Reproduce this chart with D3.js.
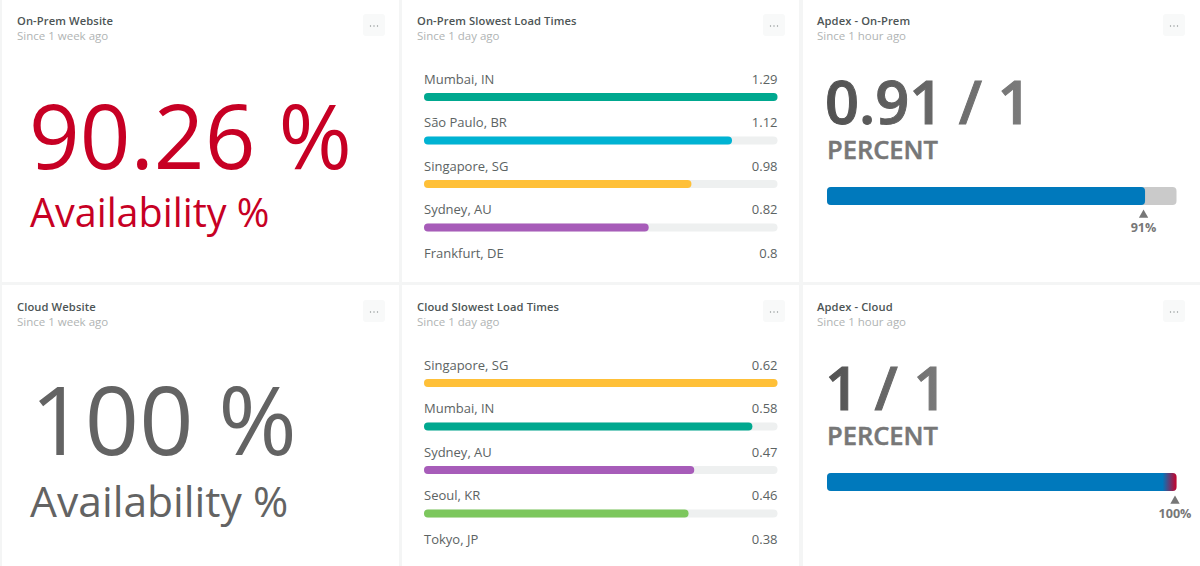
<!DOCTYPE html>
<html>
  <head>
    <meta charset="utf-8">
    <script src="https://cdn.jsdelivr.net/npm/d3@7"></script>
    <style>
      html, body { margin: 0; padding: 0; background: #f4f5f5; overflow: hidden; }
      text { font-family: "Open Sans", sans-serif; }
    </style>
  </head>
  <body>
    <div id="board"></div>

    <script>
      // ========= Data ========= //
      // times carry one more digit than the labels
      const onPremCities = ['Mumbai, IN', 'São Paulo, BR', 'Singapore, SG', 'Sydney, AU', 'Frankfurt, DE'];
      const onPremTimes = [1.29, 1.124, 0.976, 0.82, 0.8];
      const cloudCities = ['Singapore, SG', 'Mumbai, IN', 'Sydney, AU', 'Seoul, KR', 'Tokyo, JP'];
      const cloudTimes = [0.62, 0.576, 0.474, 0.464, 0.38];
      const cityColors = {
        'Mumbai, IN': '#00a88f',
        'São Paulo, BR': '#00b3d3',
        'Singapore, SG': '#ffc038',
        'Sydney, AU': '#a75cb9',
        'Seoul, KR': '#7cc75d'
      };
      const apdexValues = [0.91, 1];
      const apdexLabels = ['0.91 / 1', '1 / 1'];
      const apdexPercents = ['91%', '100%'];
      const availabilityValues = ['90.26 %', '100 %'];
      const cardTitles = ['On-Prem Website', 'On-Prem Slowest Load Times', 'Apdex - On-Prem', 'Cloud Website', 'Cloud Slowest Load Times', 'Apdex - Cloud'];
      const cardSubtitles = ['Since 1 week ago', 'Since 1 day ago', 'Since 1 hour ago', 'Since 1 week ago', 'Since 1 day ago', 'Since 1 hour ago'];

      // ========= Setup dimensions ========= //
      const width = 1200;
      const height = 566;
      const columnX = [2, 402, 802];
      const columnW = [397, 397, 398];
      const rowY = [0, 286];
      const rowH = [282, 281];
      const timeFormat = d3.format('.2~f');

      const svg = d3.select('#board').append('svg')
        .attr('width', width)
        .attr('height', height)
        .style('display', 'block');

      // ========= Defs ========= //
      const defs = svg.append('defs');

      // the big apdex text fades a little from left to right
      const textFade = defs.append('linearGradient').attr('id', 'text-fade');
      textFade.append('stop').attr('offset', '0%').attr('stop-color', '#515151');
      textFade.append('stop').attr('offset', '100%').attr('stop-color', '#7d7d7d');

      const barEnd = defs.append('linearGradient').attr('id', 'bar-end');
      barEnd.append('stop').attr('offset', '0%').attr('stop-color', '#0079bc');
      barEnd.append('stop').attr('offset', '96%').attr('stop-color', '#0079bc');
      barEnd.append('stop').attr('offset', '100%').attr('stop-color', '#c9002a');

      // ========= Cards ========= //
      const cards = cardTitles.map((title, i) => {
        const col = i % 3;
        const row = Math.floor(i / 3);
        const g = svg.append('g')
          .attr('transform', `translate(${columnX[col]},${rowY[row]})`);

        g.append('rect')
          .attr('x', col === 2 ? 1 : 0)
          .attr('y', row === 1 ? -1 : 0)
          .attr('width', columnW[col])
          .attr('height', rowH[row])
          .attr('fill', '#fff');

        g.append('text')
          .attr('x', 15)
          .attr('y', 25)
          .attr('font-size', 11.2)
          .attr('font-weight', 600)
          .attr('letter-spacing', 0.1)
          .attr('fill', '#4d5555')
          .text(title);

        g.append('text')
          .attr('x', 15)
          .attr('y', 40)
          .attr('font-size', 11.5)
          .attr('fill', '#b0b4b4')
          .text(cardSubtitles[i]);

        // menu button
        g.append('rect')
          .attr('x', 361)
          .attr('y', 14)
          .attr('width', 22)
          .attr('height', 22)
          .attr('rx', 3)
          .attr('fill', '#f8f9f9');

        g.selectAll('.dot')
          .data([-3.5, 0, 3.5])
          .join('circle')
          .attr('class', 'dot')
          .attr('cx', d => 372 + d)
          .attr('cy', 26)
          .attr('r', 0.7)
          .attr('fill', '#8e9494');

        return g;
      });

      // ========= Availability ========= //
      function drawAvailability(card, value, color, valueX, valueY, valueSize, labelY, labelSize) {
        card.append('text')
          .attr('x', valueX)
          .attr('y', valueY)
          .attr('font-size', valueSize)
          .attr('fill', color)
          .text(value);

        card.append('text')
          .attr('x', 28)
          .attr('y', labelY)
          .attr('font-size', labelSize)
          .attr('fill', color)
          .text('Availability %');
      }

      drawAvailability(cards[0], availabilityValues[0], '#c70024', 27, 169, 88.8, 226.5, 39.5);
      drawAvailability(cards[3], availabilityValues[1], '#636363', 28.5, 169, 95, 231, 42.6);

      // ========= Load time bars ========= //
      function drawLoadTimes(card, cities, times) {
        const x = d3.scaleLinear().domain([0, d3.max(times)]).range([0, 353.5]);
        const y = d3.scalePoint().domain(cities).range([84, 258]);

        const row = card.selectAll('.row')
          .data(cities)
          .join('g')
          .attr('class', 'row')
          .attr('transform', d => `translate(22,${y(d)})`);

        row.append('text')
          .attr('y', -0.4)
          .attr('font-size', 13)
          .attr('fill', '#5c6363')
          .text(d => d);

        row.append('text')
          .attr('x', 353.5)
          .attr('y', -0.4)
          .attr('text-anchor', 'end')
          .attr('font-size', 13)
          .attr('fill', '#5c6363')
          .text((d, i) => timeFormat(times[i]));

        // the last row is cut off by the card, only the first four show a bar
        const barRow = row.filter((d, i) => i < 4);

        barRow.append('rect')
          .attr('y', 9)
          .attr('width', x.range()[1])
          .attr('height', 8)
          .attr('rx', 4)
          .attr('fill', '#eef0f0');

        barRow.append('rect')
          .attr('y', 9)
          .attr('width', d => x(times[cities.indexOf(d)]))
          .attr('height', 8)
          .attr('rx', 4)
          .attr('fill', d => cityColors[d]);
      }

      drawLoadTimes(cards[1], onPremCities, onPremTimes);
      drawLoadTimes(cards[4], cloudCities, cloudTimes);

      // ========= Apdex ========= //
      function drawApdex(card, value, label, percent, fill) {
        const x = d3.scaleLinear().domain([0, 1]).range([25, 374.5]);

        // a thin stroke thickens the semibold to the reference's weight
        card.append('text')
          .attr('x', 23)
          .attr('y', 124)
          .attr('font-size', 59.5)
          .attr('font-weight', 600)
          .attr('fill', 'url(#text-fade)')
          .attr('stroke', 'url(#text-fade)')
          .attr('stroke-width', 1)
          .text(label);

        card.append('text')
          .attr('x', 25)
          .attr('y', 159)
          .attr('font-size', 25.5)
          .attr('font-weight', 600)
          .attr('fill', '#777')
          .attr('stroke', '#777')
          .attr('stroke-width', 0.5)
          .text('PERCENT');

        card.append('rect')
          .attr('x', x(0))
          .attr('y', 187)
          .attr('width', x(1) - x(0))
          .attr('height', 18)
          .attr('rx', 4)
          .attr('fill', '#cacaca');

        card.append('rect')
          .attr('x', x(0))
          .attr('y', 187)
          .attr('width', x(value) - x(0))
          .attr('height', 18)
          .attr('rx', 4)
          .attr('fill', fill);

        const markerX = x(value) - 1.5;

        card.append('path')
          .attr('d', d3.symbol(d3.symbolTriangle, 38))
          .attr('transform', `translate(${markerX},215)`)
          .attr('fill', '#777');

        card.append('text')
          .attr('x', markerX)
          .attr('y', 232)
          .attr('text-anchor', 'middle')
          .attr('font-size', 12.6)
          .attr('font-weight', 700)
          .attr('fill', '#777')
          .text(percent);
      }

      drawApdex(cards[2], apdexValues[0], apdexLabels[0], apdexPercents[0], '#0079bc');
      drawApdex(cards[5], apdexValues[1], apdexLabels[1], apdexPercents[1], 'url(#bar-end)');
    </script>
  </body>
</html>
